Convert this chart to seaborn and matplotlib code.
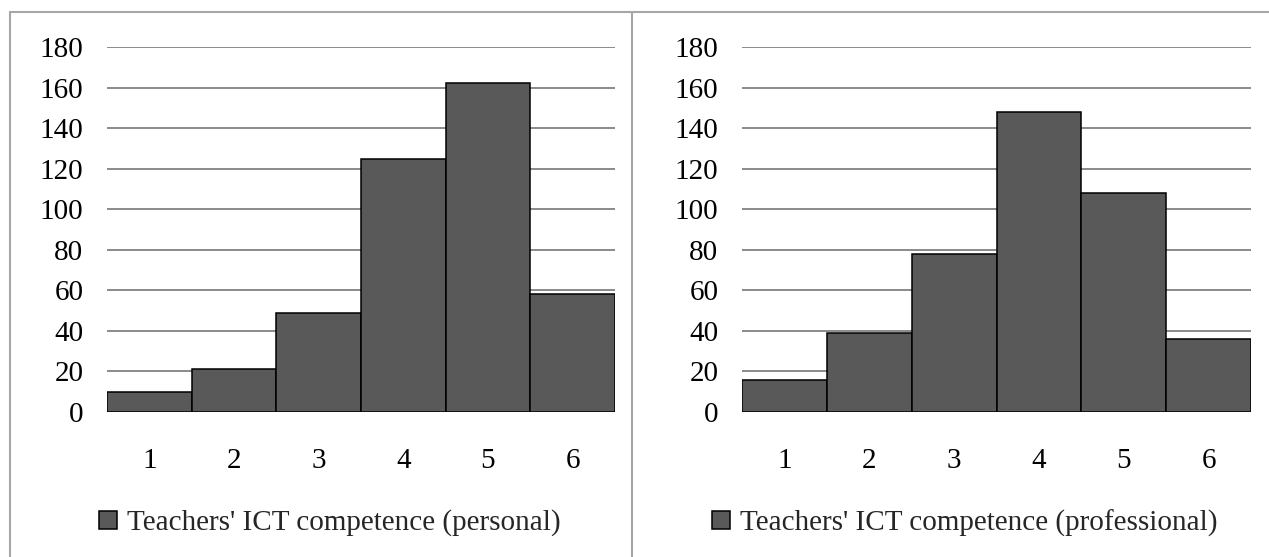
import matplotlib
matplotlib.use("Agg")
import matplotlib.pyplot as plt
from matplotlib.lines import Line2D
import pandas as pd
import seaborn as sns

# Competence levels and teacher counts for each panel
levels = ["1", "2", "3", "4", "5", "6"]
personal_counts = [10, 21, 49, 125, 162, 58]
professional_counts = [16, 39, 78, 148, 108, 36]
series_labels = ["Teachers' ICT competence (personal)",
                 "Teachers' ICT competence (professional)"]
y_ticks = [0, 20, 40, 60, 80, 100, 120, 140, 160, 180]

sns.set_theme(style="white")
plt.rcParams["font.family"] = ["Liberation Serif", "DejaVu Serif"]

W, H = 1269, 557
fig = plt.figure(figsize=(W / 100, H / 100), dpi=100)
fig.patch.set_facecolor("white")


def px_axes(x0, x1, y_top, y_bot):
    return fig.add_axes([x0 / W, (H - y_bot) / H, (x1 - x0) / W, (y_bot - y_top) / H])


# (axes, counts, legend label, legend left edge in pixels)
panels = [
    (px_axes(107, 615, 47, 412), personal_counts, series_labels[0], 99),
    (px_axes(742, 1251, 47, 412), professional_counts, series_labels[1], 712),
]

bar_color = "#595959"
grid_color = "#8a8a8a"
tick_fs = 21
legend_fs = 21

for ax, counts, label, leg_x in panels:
    df = pd.DataFrame({"level": levels, "count": counts})
    ax.set_axisbelow(True)
    for t in y_ticks[1:]:
        ax.axhline(t, color=grid_color, lw=1.4, zorder=0)
    ax.axhline(0, color="#c8c8c8", lw=1.5, zorder=0)
    sns.barplot(data=df, x="level", y="count", color=bar_color, width=1.0,
                edgecolor="black", linewidth=1.1, saturation=1, label=label,
                ax=ax, zorder=2)
    ax.set_xlim(-0.5, len(levels) - 0.5)
    ax.set_ylim(0, 180)
    ax.set_yticks(y_ticks)
    ax.set_yticklabels([str(t) for t in y_ticks])
    ax.set_xlabel("")
    ax.set_ylabel("")
    for s in ax.spines.values():
        s.set_visible(False)
    ax.tick_params(axis="y", length=0, pad=17, labelsize=tick_fs, labelcolor="black")
    ax.tick_params(axis="x", length=0, pad=26, labelsize=tick_fs, labelcolor="black")

    x0, x1 = ax.get_position().x0 * W, ax.get_position().x1 * W
    ax.legend(loc="center left",
              bbox_to_anchor=((leg_x - x0) / (x1 - x0), (412 - 523) / 365),
              frameon=False, fontsize=legend_fs, handlelength=0.6, handleheight=0.6,
              handletextpad=0.35, borderaxespad=0, borderpad=0)

# Outer frame and divider between the two panels
frame_color = "#a6a6a6"
for xs, ys in [((10 / W, 1.0), (1 - 12 / H, 1 - 12 / H)),
               ((10 / W, 10 / W), (1 - 12 / H, 0.0)),
               ((632 / W, 632 / W), (1 - 12 / H, 0.0))]:
    fig.add_artist(Line2D(xs, ys, color=frame_color, lw=1.5))

fig.savefig("out.png", dpi=100, facecolor="white")
